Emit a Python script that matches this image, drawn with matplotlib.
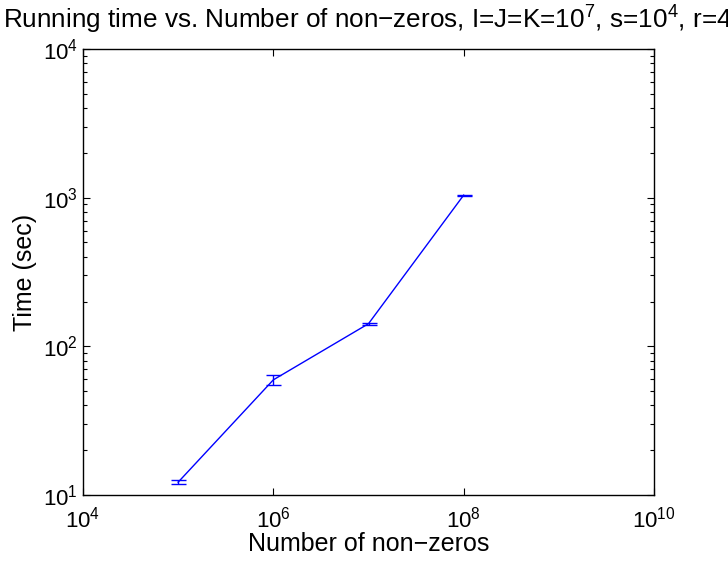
import matplotlib
matplotlib.use("Agg")
import matplotlib.pyplot as plt
from matplotlib.ticker import LogLocator, NullLocator, NullFormatter

plt.rcParams['font.family'] = ['Liberation Sans', 'DejaVu Sans']
plt.rcParams['mathtext.fontset'] = 'custom'
plt.rcParams['mathtext.rm'] = 'Liberation Sans'
plt.rcParams['mathtext.it'] = 'Liberation Sans:italic'
plt.rcParams['mathtext.bf'] = 'Liberation Sans:bold'

nnz = [1e5, 1e6, 1e7, 1e8]
time_mean = [12.2, 59.5, 142.0, 1040.0]
time_err = [0.4, 4.2, 2.5, 8.0]

title = "Running time vs. Number of non\u2212zeros, I=J=K=10$^{7}$, s=10$^{4}$, r=4"
xlabel = "Number of non\u2212zeros"
ylabel = "Time (sec)"

fig = plt.figure(figsize=(7.28, 5.61), dpi=100)
ax = fig.add_axes([83/728, 1-495/561, (654-83)/728, (495-49)/561])

ax.errorbar(nnz, time_mean, yerr=time_err, color=(0, 0, 1), linewidth=1.0,
            elinewidth=1.0, capsize=5.4, capthick=1.0)

ax.set_xscale('log')
ax.set_yscale('log')
ax.set_xlim(1e4, 1e10)
ax.set_ylim(1e1, 1e4)
ax.set_xticks([1e4, 1e6, 1e8, 1e10])
ax.xaxis.set_minor_locator(NullLocator())
ax.yaxis.set_major_locator(LogLocator(base=10, numticks=10))
ax.yaxis.set_minor_locator(LogLocator(base=10, subs=range(2, 10), numticks=20))
ax.yaxis.set_minor_formatter(NullFormatter())

ax.tick_params(which='both', direction='in', top=True, right=True, labelsize=16)
ax.tick_params(axis='x', which='both', pad=8)
ax.tick_params(axis='y', which='both', pad=3.5)
ax.tick_params(which='major', length=5, width=0.8)
ax.tick_params(which='minor', length=3, width=0.8)
for s in ax.spines.values():
    s.set_linewidth(1.0)

ax.set_xlabel(xlabel, fontsize=18)
ax.xaxis.label.set_va('baseline')
ax.xaxis.set_label_coords(0.5, (495 - 551) / 446)
ax.set_ylabel(ylabel, fontsize=18)
ax.yaxis.set_label_coords((37 - 83) / 571, 0.5)
fig.text(3/728, 1-29/561, title, fontsize=18.8, ha='left', va='baseline')

fig.savefig("out.png", dpi=100)
